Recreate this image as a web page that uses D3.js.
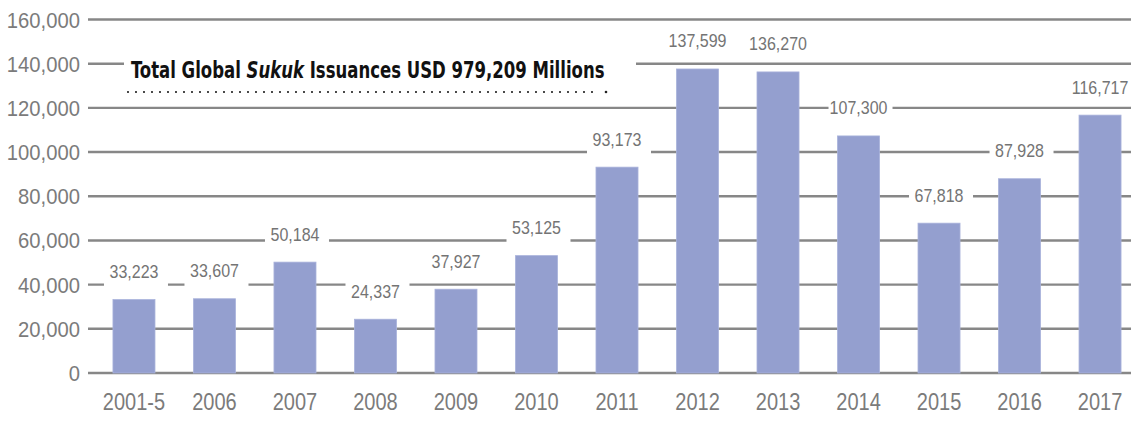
<!DOCTYPE html>
<html>
<head>
<meta charset="utf-8">
<script src="https://cdn.jsdelivr.net/npm/d3@7"></script>
<style>
  html, body { margin: 0; padding: 0; background: #fff; }
  svg { display: block; }
</style>
</head>
<body>
<svg id="chart" width="1131" height="423"></svg>
<script>
// Sukuk issuances by period, USD millions
const categories = ["2001-5", "2006", "2007", "2008", "2009", "2010", "2011", "2012", "2013", "2014", "2015", "2016", "2017"];
const issuances = [33223, 33607, 50184, 24337, 37927, 53125, 93173, 137599, 136270, 107300, 67818, 87928, 116717];
const yTicks = [0, 20000, 40000, 60000, 80000, 100000, 120000, 140000, 160000];
const titleParts = [
  { text: "Total Global ", italic: false },
  { text: "Sukuk", italic: true },
  { text: " Issuances USD 979,209 Millions", italic: false }
];

const W = 1131, H = 423;
const svg = d3.select("#chart");
const fmt = d3.format(",");
const TEXT_GRAY = "#7b7b7b";
const FONT = "'Liberation Sans', Arial, sans-serif";

const x = d3.scaleBand()
  .domain(categories)
  .range([88, 1146])
  .paddingInner(0.478)
  .paddingOuter(0.31);

const y = d3.scaleLinear()
  .domain([0, 160000])
  .range([373, 19.5]);

// horizontal gridlines
svg.append("g")
  .selectAll("line")
  .data(yTicks)
  .join("line")
  .attr("x1", 88)
  .attr("x2", W)
  .attr("y1", d => y(d))
  .attr("y2", d => y(d))
  .attr("stroke", "#878787")
  .attr("stroke-width", 2.4);

// y tick labels, slightly condensed
svg.append("g")
  .selectAll("g")
  .data(yTicks)
  .join("g")
  .attr("transform", d => `translate(80,${y(d) + 8}) scale(0.92,1)`)
  .append("text")
  .attr("text-anchor", "end")
  .attr("font-family", FONT)
  .attr("font-size", 22)
  .attr("fill", TEXT_GRAY)
  .text(d => fmt(d));

// bars
svg.append("g")
  .selectAll("rect")
  .data(issuances)
  .join("rect")
  .attr("x", (d, i) => x(categories[i]))
  .attr("width", x.bandwidth())
  .attr("y", d => y(d))
  .attr("height", d => y(0) - y(d))
  .attr("fill", "#949fcf")
  .attr("stroke", "#a9b2db")
  .attr("stroke-width", 0.8);

// value labels on white plates above each bar
const labels = svg.append("g")
  .selectAll("g")
  .data(issuances)
  .join("g")
  .attr("transform", (d, i) => `translate(${x(categories[i]) + x.bandwidth() / 2},${y(d) - 28})`);

labels.append("rect")
  .attr("x", -30)
  .attr("width", 64)
  .attr("y", -14)
  .attr("height", 31)
  .attr("fill", "#fff");

labels.append("g")
  .attr("transform", "translate(0,6.5) scale(0.89,1)")
  .append("text")
  .attr("text-anchor", "middle")
  .attr("font-family", FONT)
  .attr("font-size", 18)
  .attr("fill", "#747474")
  .text(d => fmt(d));

// x category labels
svg.append("g")
  .selectAll("g")
  .data(categories)
  .join("g")
  .attr("transform", d => `translate(${x(d) + x.bandwidth() / 2},410) scale(0.87,1)`)
  .append("text")
  .attr("text-anchor", "middle")
  .attr("font-family", FONT)
  .attr("font-size", 23)
  .attr("fill", TEXT_GRAY)
  .text(d => d);

// headline with dotted rule
const title = svg.append("g");
title.append("rect")
  .attr("x", 124)
  .attr("y", 48)
  .attr("width", 512)
  .attr("height", 52)
  .attr("fill", "#fff");

// headline text, squeezed horizontally to its measured width
const titleWidth = 474;
const tg = title.append("g");
const tt = tg.append("text")
  .attr("x", 0)
  .attr("y", 0)
  .attr("font-family", "'Liberation Sans Narrow', 'DejaVu Sans Condensed', sans-serif")
  .attr("font-weight", "bold")
  .attr("font-size", 23)
  .attr("fill", "#111");
tt.selectAll("tspan")
  .data(titleParts)
  .join("tspan")
  .attr("font-style", d => d.italic ? "italic" : "normal")
  .text(d => d.text);
const natural = tt.node().getComputedTextLength();
tg.attr("transform", `translate(131,77.5) scale(${titleWidth / natural},1)`);

title.append("line")
  .attr("x1", 128)
  .attr("x2", 600)
  .attr("y1", 92)
  .attr("y2", 92)
  .attr("stroke", "#222")
  .attr("stroke-width", 2.2)
  .attr("stroke-linecap", "round")
  .attr("stroke-dasharray", "0 8");
title.append("circle")
  .attr("cx", 606)
  .attr("cy", 92)
  .attr("r", 1.3)
  .attr("fill", "#222");
</script>
</body>
</html>
